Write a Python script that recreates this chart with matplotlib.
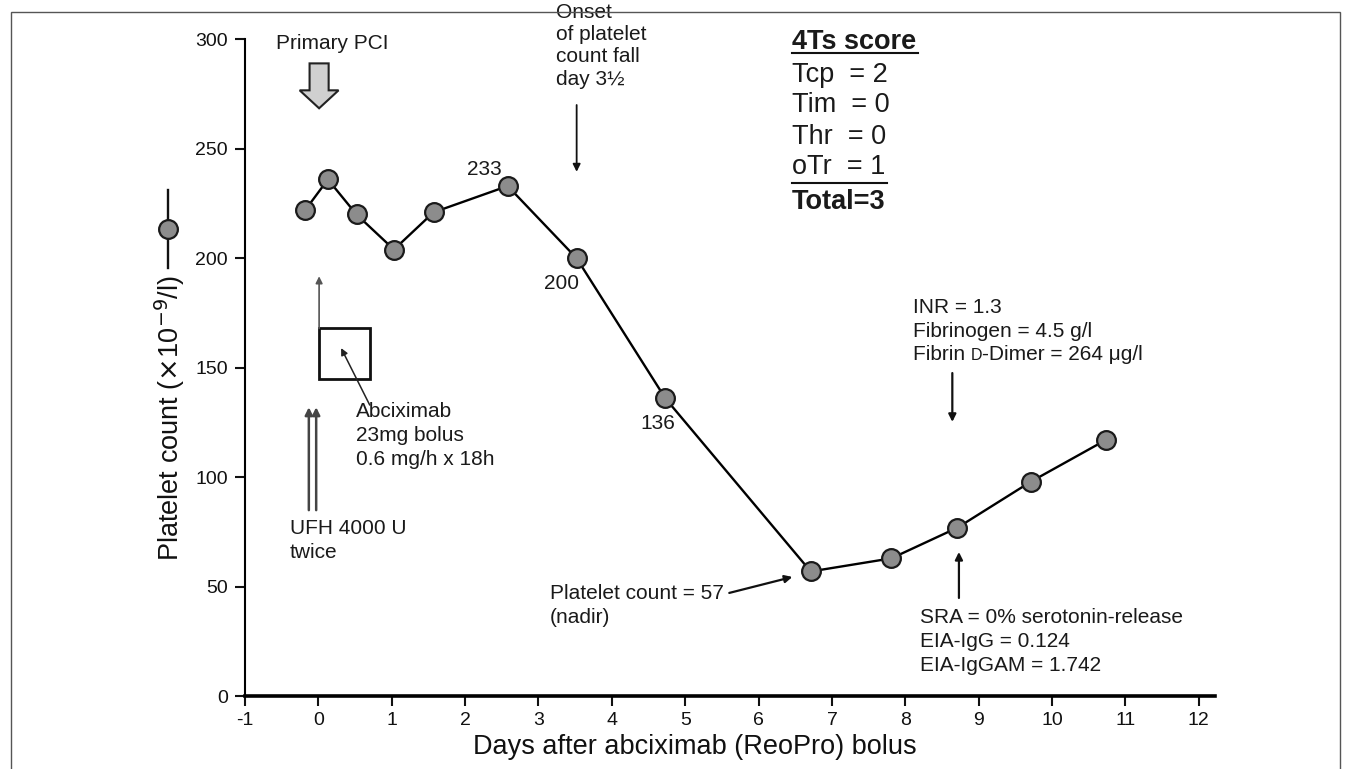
import matplotlib
matplotlib.use("Agg")
import matplotlib.pyplot as plt
from matplotlib.patches import Rectangle, FancyArrow
from matplotlib.lines import Line2D

plt.rcParams['font.family'] = ['Liberation Sans', 'DejaVu Sans']
plt.rcParams['axes.unicode_minus'] = False

# ---- data ----
days = [-0.18, 0.13, 0.52, 1.03, 1.57, 2.58, 3.52, 4.73, 6.71, 7.81, 8.71, 9.71, 10.73]
platelets = [222, 236, 220, 204, 221, 233, 200, 136, 57, 63, 77, 98, 117]
x_ticks = list(range(-1, 13))
y_ticks = [0, 50, 100, 150, 200, 250, 300]
score_lines = ["Tcp  = 2", "Tim  = 0", "Thr  = 0", "oTr  = 1"]

W, H = 1352, 769
fig = plt.figure(figsize=(W / 100, H / 100), dpi=100)
L, R, T, B = 245, 1215, 39.3, 696.3
ax = fig.add_axes([L / W, 1 - B / H, (R - L) / W, (B - T) / H])
ax.set_xlim(-1, 12.22)
ax.set_ylim(0, 300)

ax.plot(days, platelets, color='black', lw=1.7, marker='o', markersize=13.5,
        markerfacecolor='#8c8c8c', markeredgecolor='#1a1a1a', markeredgewidth=1.6,
        zorder=5, clip_on=False)

for s in ['top', 'right']:
    ax.spines[s].set_visible(False)
ax.spines['left'].set_linewidth(1.5)
ax.spines['bottom'].set_linewidth(2.6)
ax.set_xticks(x_ticks)
ax.set_yticks(y_ticks)
ax.tick_params(axis='both', direction='out', length=7, width=1.5, labelsize=14, colors='#111111')
ax.tick_params(axis='y', pad=5.5)
ax.tick_params(axis='x', pad=4)

ax.set_xlabel("Days after abciximab (ReoPro) bolus", fontsize=19.5, color='#111111')
ax.xaxis.set_label_coords(0.464, -0.057)
ax.set_ylabel(r"Platelet count ($\times$10$^{-9}$/l)", fontsize=19.5, color='#111111')
ax.yaxis.set_label_coords(-0.060, 0.423)

fs = 15
tc = '#1a1a1a'
ls = 1.35
def vy(py):
    return (B - py) / ((B - T) / 300)

# Primary PCI
ax.text(0.19, 298, "Primary PCI", ha='center', va='center', fontsize=fs, color=tc, clip_on=False)
ax.add_patch(FancyArrow(0.01, 289, 0, -20.5, width=0.26, head_width=0.53, head_length=8.2,
                        length_includes_head=True, facecolor='#d0d0d0', edgecolor='#222222',
                        lw=1.5, zorder=4))

# thin gray arrow from box up
ax.annotate("", xy=(0.01, 191.8), xytext=(0.01, 168),
            arrowprops=dict(arrowstyle='-|>', color='#555555', lw=1.2, mutation_scale=10,
                            shrinkA=0, shrinkB=0))
# box
ax.add_patch(Rectangle((0.01, 144.8), 0.69, 23.2, fill=False, edgecolor='#111111', lw=2.0))
ax.annotate("", xy=(0.31, 159), xytext=(0.70, 133),
            arrowprops=dict(arrowstyle='-|>', color='#222222', lw=1.1, mutation_scale=10,
                            shrinkA=0, shrinkB=0))
ax.text(0.51, 134.5, "Abciximab\n23mg bolus\n0.6 mg/h x 18h", ha='left', va='top',
        fontsize=fs, color=tc, linespacing=ls)

# UFH arrows
for xx in (-0.13, -0.03):
    ax.annotate("", xy=(xx, 132), xytext=(xx, 85),
                arrowprops=dict(arrowstyle='-|>', color='#444444', lw=1.8, mutation_scale=11,
                                shrinkA=0, shrinkB=0))
ax.text(-0.39, 81, "UFH 4000 U\ntwice", ha='left', va='top', fontsize=fs, color=tc, linespacing=ls)

# value labels
ax.text(2.26, 240.5, "233", ha='center', va='center', fontsize=fs, color=tc)
ax.text(3.32, 188.4, "200", ha='center', va='center', fontsize=fs, color=tc)
ax.text(4.63, 124.4, "136", ha='center', va='center', fontsize=fs, color=tc)

# Onset
ax.text(3.24, 316.5, "Onset\nof platelet\ncount fall\nday 3½", ha='left', va='top',
        fontsize=fs, color=tc, linespacing=1.21, clip_on=False)
ax.annotate("", xy=(3.52, 239.5), xytext=(3.52, 270),
            arrowprops=dict(arrowstyle='-|>', color='#111111', lw=1.3, mutation_scale=11,
                            shrinkA=0, shrinkB=0))

# 4Ts score
sx = 6.45
ax.text(sx, vy(41.7), "4Ts score", ha='left', va='center', fontsize=19.5, fontweight='bold',
        color=tc, clip_on=False)
ax.plot([sx, 8.17], [vy(53.3), vy(53.3)], color='#111111', lw=1.5, clip_on=False)
for i, s in enumerate(score_lines):
    ax.text(sx, vy([75, 105.5, 136.5, 166.7][i]), s, ha='left', va='center', fontsize=19.5,
            color=tc, clip_on=False)
ax.plot([sx, 7.75], [vy(182.7), vy(182.7)], color='#111111', lw=1.5, clip_on=False)
ax.text(sx, vy(201.7), "Total=3", ha='left', va='center', fontsize=19.5, fontweight='bold',
        color=tc, clip_on=False)

# INR block
ax.text(8.1, 182, "INR = 1.3\nFibrinogen = 4.5 g/l", ha='left',
        va='top', fontsize=fs, color=tc, linespacing=ls)
t1 = ax.text(8.1, vy(355), "Fibrin ", ha='left', va='center', fontsize=fs, color=tc)
t2 = ax.annotate("D", xy=(1, 0), xycoords=t1, xytext=(0, 0.9), textcoords='offset points',
                 ha='left', va='bottom', fontsize=11.5, color=tc)
ax.annotate("-Dimer = 264 μg/l", xy=(1, 0), xycoords=t2, xytext=(0, -0.9),
            textcoords='offset points', ha='left', va='bottom', fontsize=fs, color=tc)
ax.annotate("", xy=(8.64, 125.3), xytext=(8.64, 147.6),
            arrowprops=dict(arrowstyle='-|>', color='#111111', lw=1.6, mutation_scale=11,
                            shrinkA=0, shrinkB=0))

# SRA block
ax.text(8.2, 40.5, "SRA = 0% serotonin-release\nEIA-IgG = 0.124\nEIA-IgGAM = 1.742", ha='left',
        va='top', fontsize=fs, color=tc, linespacing=ls)
ax.annotate("", xy=(8.73, 65.9), xytext=(8.73, 44.9),
            arrowprops=dict(arrowstyle='-|>', color='#111111', lw=1.6, mutation_scale=11,
                            shrinkA=0, shrinkB=0))

# nadir
ax.text(3.15, 51.5, "Platelet count = 57\n(nadir)", ha='left', va='top', fontsize=fs, color=tc,
        linespacing=ls)
ax.annotate("", xy=(6.46, 54.5), xytext=(5.6, 47.2),
            arrowprops=dict(arrowstyle='-|>', color='#111111', lw=1.6, mutation_scale=11,
                            shrinkA=0, shrinkB=0))

# legend symbol (outside axes)
fig.add_artist(Line2D([168 / W, 168 / W], [1 - 190 / H, 1 - 268 / H], color='#111111', lw=1.7))
fig.add_artist(Line2D([168 / W], [1 - 229 / H], marker='o', markersize=13.5,
                      markerfacecolor='#8c8c8c', markeredgecolor='#1a1a1a', markeredgewidth=1.6))

# figure frame
fig.add_artist(Rectangle((11 / W, -0.01), (1340 - 11) / W, 1 - 12 / H + 0.01, fill=False,
                         edgecolor='#555555', lw=1.0, transform=fig.transFigure))

fig.savefig("out.png", dpi=100)
